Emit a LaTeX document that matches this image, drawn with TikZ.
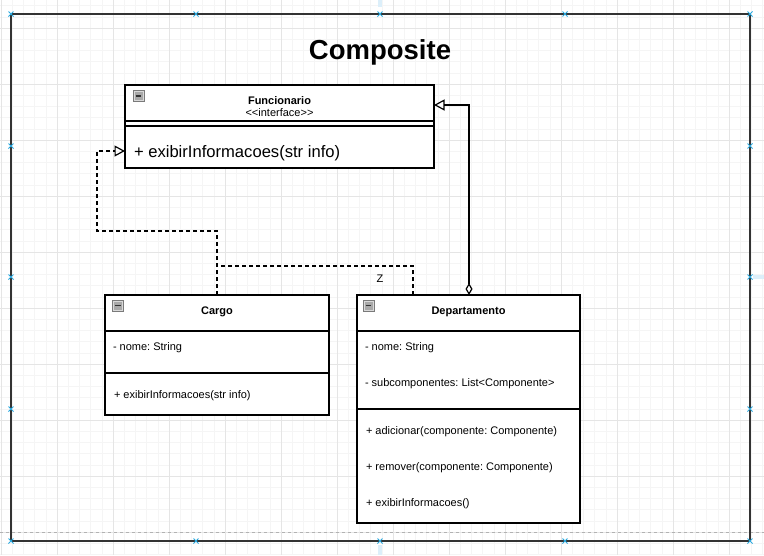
\documentclass[tikz,border=0pt]{standalone}
\usepackage{fontspec}
\setmainfont{Liberation Sans}[Ligatures=TeXOff]
\usetikzlibrary{arrows.meta,calc}

\definecolor{gridminor}{HTML}{F5F5F5}
\definecolor{gridmajor}{HTML}{E5E5E5}
\definecolor{handleblue}{HTML}{29A9E0}
\definecolor{paleblue}{HTML}{DCEFFA}
\definecolor{framegray}{HTML}{333333}
\definecolor{iconfill}{HTML}{A8A8A8}
\definecolor{iconedge}{HTML}{7A7A7A}

\begin{document}
\frenchspacing
\begin{tikzpicture}[x=1pt,y=-1pt,
  every node/.style={inner sep=0pt, outer sep=0pt},
  umlbox/.style={draw=black, line width=1.2pt, fill=white, rectangle, anchor=north west},
  sepline/.style={draw=black, line width=1.2pt},
  member/.style={anchor=base west, font=\fontsize{11}{13}\selectfont},
  classname/.style={anchor=base, font=\fontsize{11}{13}\selectfont\bfseries},
  realize/.style={draw=black, line width=1.2pt, dash pattern=on 4pt off 3pt},
  openarrow/.style={-{Triangle[open, length=10.5pt, width=11pt, line width=1.2pt]}},
  compose/.style={draw=black, line width=1.2pt,
    {Diamond[open, length=12pt, width=7pt, line width=1.2pt]}-{Triangle[open, length=10.5pt, width=11pt, line width=1.2pt]}},
  handle/.style={draw=handleblue, line width=0.9pt},
  minusicon/.pic={
    \draw[fill=iconfill, draw=iconedge, line width=0.7pt] (0,0) rectangle (11,11);
    \draw[draw=black!15, line width=0.6pt] (1,1) rectangle (10,10);
    \draw[draw=black!80, line width=1.8pt] (2.6,5.5) -- (8.4,5.5);
  }
]
\useasboundingbox (0,0) rectangle (764,555);
\fill[white] (0,0) rectangle (764,555);

% editor grid
\begin{scope}
  \clip (0,0) rectangle (764,555);
  \foreach \i in {0,...,68} \draw[gridminor, line width=0.6pt] ({1+11.2*\i},0) -- ({1+11.2*\i},555);
  \foreach \j in {0,...,49} \draw[gridminor, line width=0.6pt] (0,{5.6+11.2*\j}) -- (764,{5.6+11.2*\j});
  \foreach \i in {0,...,13} \draw[gridmajor, line width=0.7pt] ({1+56*\i},0) -- ({1+56*\i},555);
  \foreach \j in {0,...,9} \draw[gridmajor, line width=0.7pt] (0,{28+56*\j}) -- (764,{28+56*\j});
  \draw[black!30, line width=0.6pt, dash pattern=on 3pt off 3pt] (0,532) -- (764,532);
\end{scope}

% pale marks at the edges
\fill[paleblue] (378,0) rectangle (382,7);
\fill[paleblue] (378,545) rectangle (382,555);
\fill[paleblue] (753,275) rectangle (764,279);

% outer frame
\node[draw=framegray, line width=1.6pt, rectangle, anchor=north west,
      minimum width=739pt, minimum height=527pt] (frame) at (11,14) {};
\node[anchor=base, font=\fontsize{27.5}{30}\selectfont\bfseries] (title) at (380,59) {Composite};

% selection handles on the frame
\foreach \hx in {11,196,380,565,750} {
  \draw[handle] (\hx-2.5,11.5) -- (\hx+2.5,16.5) (\hx-2.5,16.5) -- (\hx+2.5,11.5);
  \draw[handle] (\hx-2.5,538.5) -- (\hx+2.5,543.5) (\hx-2.5,543.5) -- (\hx+2.5,538.5);
}
\foreach \hy in {146,277,409} {
  \draw[handle] (8.5,\hy-2.5) -- (13.5,\hy+2.5) (8.5,\hy+2.5) -- (13.5,\hy-2.5);
  \draw[handle] (747.5,\hy-2.5) -- (752.5,\hy+2.5) (747.5,\hy+2.5) -- (752.5,\hy-2.5);
}

% Funcionario interface
\node[umlbox, minimum width=309pt, minimum height=83pt] (func) at (125,85) {};
\draw[sepline] (func.west |- 0,121) -- (func.east |- 0,121);
\draw[sepline] (func.west |- 0,126) -- (func.east |- 0,126);
\pic at (133,90.5) {minusicon};
\node[classname] (funcname) at (279.5,104) {Funcionario};
\node[anchor=base, font=\fontsize{11}{13}\selectfont] (funcstereo) at (279.5,116.5) {<<interface>>};
\node[member, font=\fontsize{16.6}{19}\selectfont] (funcop) at (134,157.5) {+ exibirInformacoes(str info)};

% Cargo class
\node[umlbox, minimum width=224pt, minimum height=120pt] (cargo) at (105,295) {};
\draw[sepline] (cargo.west |- 0,331) -- (cargo.east |- 0,331);
\draw[sepline] (cargo.west |- 0,373) -- (cargo.east |- 0,373);
\pic at (112.5,300) {minusicon};
\node[classname] (cargoname) at (217,314) {Cargo};
\node[member] (cargoattr) at (113,350) {- nome: String};
\node[member] (cargoop) at (114,398) {+ exibirInformacoes(str info)};

% Departamento class
\node[umlbox, minimum width=223pt, minimum height=228pt] (dep) at (357,295) {};
\draw[sepline] (dep.west |- 0,331) -- (dep.east |- 0,331);
\draw[sepline] (dep.west |- 0,409) -- (dep.east |- 0,409);
\pic at (363,300) {minusicon};
\node[classname] (depname) at (468.5,314) {Departamento};
\node[member] (depattr1) at (365,350) {- nome: String};
\node[member] (depattr2) at (365,386.7) {- subcomponentes: List<Componente>};
\node[member] (depop1) at (366,434) {+ adicionar(componente: Componente)};
\node[member] (depop2) at (366,470.7) {+ remover(componente: Componente)};
\node[member] (depop3) at (366,506.7) {+ exibirInformacoes()};

% realization: Cargo -> Funcionario
\draw[realize, openarrow] (cargo.north) -- (cargo.north |- 0,231) -| (97,151) -- (func.west |- 0,151);
% realization: Departamento joins the Cargo route
\coordinate (depjoin) at (cargo.north |- 0,266);
\draw[realize] (dep.north -| 413,0) -- (413,266) -- (depjoin);
\node[anchor=base, font=\fontsize{11}{13}\selectfont] (zlabel) at (380,282) {Z};

% composition: Departamento -> Funcionario
\draw[compose] (dep.north -| 469,0) -- (469,105) -- (func.east |- 0,105);

\end{tikzpicture}
\end{document}
